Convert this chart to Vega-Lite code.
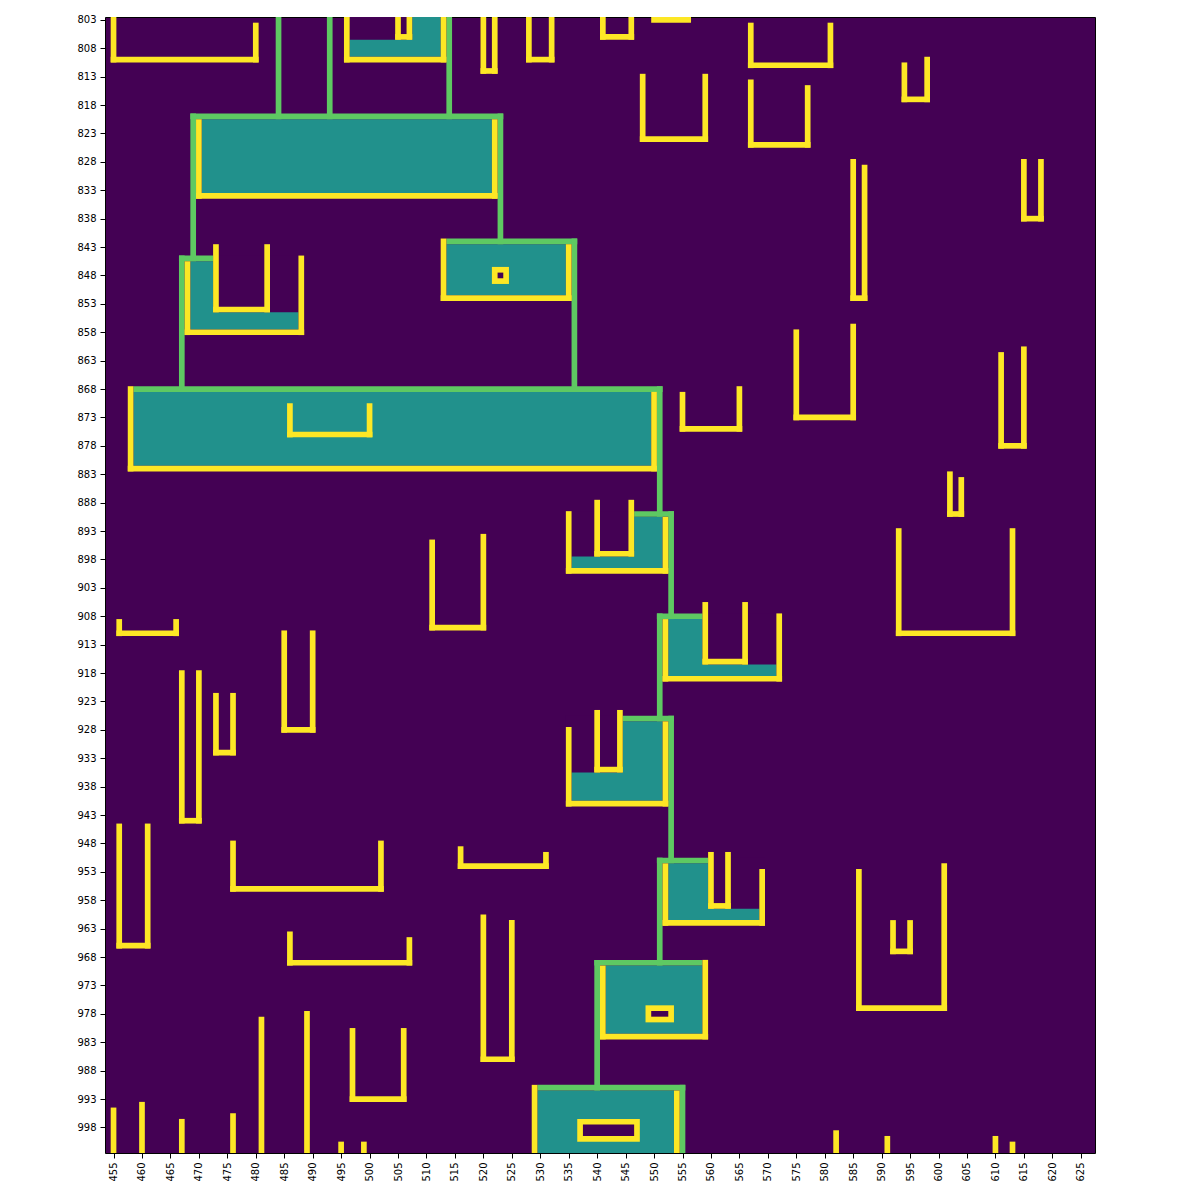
{
  "$schema": "https://vega.github.io/schema/vega-lite/v6.json",
  "width": 990,
  "height": 1136,
  "autosize": "none",
  "padding": {"left": 105, "top": 17, "right": 105, "bottom": 47},
  "background": "white",
  "config": {
    "view": {"stroke": "#000000", "strokeWidth": 1, "fill": "#440154"},
    "axis": {"grid": false, "domain": false, "tickColor": "#000000", "tickSize": 5, "tickWidth": 1, "labelFont": "DejaVu Sans", "labelFontSize": 10, "labelColor": "#000000", "labelPadding": 4, "title": null}
  },
  "data": {"values": [
    {"x":497,"x2":513,"y":803,"y2":810,"v":"t"},
    {"x":471,"x2":522,"y":821,"y2":834,"v":"t"},
    {"x":469,"x2":488,"y":846,"y2":858,"v":"t"},
    {"x":514,"x2":535,"y":843,"y2":852,"v":"t"},
    {"x":459,"x2":550,"y":869,"y2":882,"v":"t"},
    {"x":536,"x2":552,"y":891,"y2":900,"v":"t"},
    {"x":553,"x2":572,"y":909,"y2":919,"v":"t"},
    {"x":536,"x2":552,"y":927,"y2":941,"v":"t"},
    {"x":553,"x2":569,"y":952,"y2":962,"v":"t"},
    {"x":542,"x2":559,"y":970,"y2":982,"v":"t"},
    {"x":530,"x2":554,"y":992,"y2":1003,"v":"t"},

    {"x":496,"x2":508,"y":803,"y2":807,"v":"p"},
    {"x":473,"x2":489,"y":845,"y2":855,"v":"p"},
    {"x":535,"x2":547,"y":890,"y2":898,"v":"p"},
    {"x":559,"x2":573,"y":908,"y2":917,"v":"p"},
    {"x":535,"x2":545,"y":926,"y2":936,"v":"p"},
    {"x":560,"x2":570,"y":951,"y2":960,"v":"p"},

    {"x":484,"x2":485,"y":803,"y2":821,"v":"g"},
    {"x":493,"x2":494,"y":803,"y2":821,"v":"g"},
    {"x":514,"x2":515,"y":803,"y2":821,"v":"g"},
    {"x":469,"x2":524,"y":820,"y2":821,"v":"g"},
    {"x":469,"x2":470,"y":820,"y2":846,"v":"g"},
    {"x":523,"x2":524,"y":820,"y2":843,"v":"g"},
    {"x":467,"x2":473,"y":845,"y2":846,"v":"g"},
    {"x":467,"x2":468,"y":845,"y2":869,"v":"g"},
    {"x":514,"x2":537,"y":842,"y2":843,"v":"g"},
    {"x":536,"x2":537,"y":842,"y2":869,"v":"g"},
    {"x":459,"x2":552,"y":868,"y2":869,"v":"g"},
    {"x":551,"x2":552,"y":868,"y2":891,"v":"g"},
    {"x":547,"x2":554,"y":890,"y2":891,"v":"g"},
    {"x":553,"x2":554,"y":890,"y2":909,"v":"g"},
    {"x":551,"x2":559,"y":908,"y2":909,"v":"g"},
    {"x":551,"x2":552,"y":908,"y2":927,"v":"g"},
    {"x":545,"x2":554,"y":926,"y2":927,"v":"g"},
    {"x":553,"x2":554,"y":926,"y2":952,"v":"g"},
    {"x":551,"x2":560,"y":951,"y2":952,"v":"g"},
    {"x":551,"x2":552,"y":951,"y2":970,"v":"g"},
    {"x":540,"x2":559,"y":969,"y2":970,"v":"g"},
    {"x":540,"x2":541,"y":969,"y2":992,"v":"g"},
    {"x":530,"x2":556,"y":991,"y2":992,"v":"g"},
    {"x":555,"x2":556,"y":991,"y2":1003,"v":"g"},

    {"x":455,"x2":456,"y":803,"y2":811,"v":"y"},
    {"x":455,"x2":481,"y":810,"y2":811,"v":"y"},
    {"x":480,"x2":481,"y":804,"y2":811,"v":"y"},
    {"x":496,"x2":497,"y":803,"y2":811,"v":"y"},
    {"x":496,"x2":514,"y":810,"y2":811,"v":"y"},
    {"x":513,"x2":514,"y":803,"y2":811,"v":"y"},
    {"x":505,"x2":506,"y":803,"y2":807,"v":"y"},
    {"x":507,"x2":508,"y":803,"y2":807,"v":"y"},
    {"x":505,"x2":508,"y":806,"y2":807,"v":"y"},
    {"x":520,"x2":521,"y":803,"y2":813,"v":"y"},
    {"x":522,"x2":523,"y":803,"y2":813,"v":"y"},
    {"x":520,"x2":523,"y":812,"y2":813,"v":"y"},
    {"x":528,"x2":529,"y":803,"y2":811,"v":"y"},
    {"x":532,"x2":533,"y":803,"y2":811,"v":"y"},
    {"x":528,"x2":533,"y":810,"y2":811,"v":"y"},
    {"x":541,"x2":542,"y":803,"y2":807,"v":"y"},
    {"x":546,"x2":547,"y":803,"y2":807,"v":"y"},
    {"x":541,"x2":547,"y":806,"y2":807,"v":"y"},
    {"x":550,"x2":557,"y":803,"y2":804,"v":"y"},
    {"x":567,"x2":568,"y":804,"y2":812,"v":"y"},
    {"x":581,"x2":582,"y":804,"y2":812,"v":"y"},
    {"x":567,"x2":582,"y":811,"y2":812,"v":"y"},
    {"x":548,"x2":549,"y":813,"y2":825,"v":"y"},
    {"x":559,"x2":560,"y":813,"y2":825,"v":"y"},
    {"x":548,"x2":560,"y":824,"y2":825,"v":"y"},
    {"x":567,"x2":568,"y":814,"y2":826,"v":"y"},
    {"x":577,"x2":578,"y":815,"y2":826,"v":"y"},
    {"x":567,"x2":578,"y":825,"y2":826,"v":"y"},
    {"x":594,"x2":595,"y":811,"y2":818,"v":"y"},
    {"x":598,"x2":599,"y":810,"y2":818,"v":"y"},
    {"x":594,"x2":599,"y":817,"y2":818,"v":"y"},
    {"x":470,"x2":471,"y":821,"y2":835,"v":"y"},
    {"x":522,"x2":523,"y":821,"y2":835,"v":"y"},
    {"x":470,"x2":523,"y":834,"y2":835,"v":"y"},
    {"x":585,"x2":586,"y":828,"y2":853,"v":"y"},
    {"x":587,"x2":588,"y":829,"y2":853,"v":"y"},
    {"x":585,"x2":588,"y":852,"y2":853,"v":"y"},
    {"x":615,"x2":616,"y":828,"y2":839,"v":"y"},
    {"x":618,"x2":619,"y":828,"y2":839,"v":"y"},
    {"x":615,"x2":619,"y":838,"y2":839,"v":"y"},
    {"x":473,"x2":474,"y":843,"y2":855,"v":"y"},
    {"x":482,"x2":483,"y":843,"y2":855,"v":"y"},
    {"x":473,"x2":483,"y":854,"y2":855,"v":"y"},
    {"x":468,"x2":469,"y":846,"y2":859,"v":"y"},
    {"x":488,"x2":489,"y":845,"y2":859,"v":"y"},
    {"x":468,"x2":489,"y":858,"y2":859,"v":"y"},
    {"x":513,"x2":514,"y":842,"y2":853,"v":"y"},
    {"x":535,"x2":536,"y":843,"y2":853,"v":"y"},
    {"x":513,"x2":536,"y":852,"y2":853,"v":"y"},
    {"x":522,"x2":525,"y":847,"y2":850,"v":"y"},
    {"x":575,"x2":576,"y":858,"y2":874,"v":"y"},
    {"x":585,"x2":586,"y":857,"y2":874,"v":"y"},
    {"x":575,"x2":586,"y":873,"y2":874,"v":"y"},
    {"x":611,"x2":612,"y":862,"y2":879,"v":"y"},
    {"x":615,"x2":616,"y":861,"y2":879,"v":"y"},
    {"x":611,"x2":616,"y":878,"y2":879,"v":"y"},
    {"x":458,"x2":459,"y":868,"y2":883,"v":"y"},
    {"x":550,"x2":551,"y":869,"y2":883,"v":"y"},
    {"x":458,"x2":551,"y":882,"y2":883,"v":"y"},
    {"x":486,"x2":487,"y":871,"y2":877,"v":"y"},
    {"x":500,"x2":501,"y":871,"y2":877,"v":"y"},
    {"x":486,"x2":501,"y":876,"y2":877,"v":"y"},
    {"x":555,"x2":556,"y":869,"y2":876,"v":"y"},
    {"x":565,"x2":566,"y":868,"y2":876,"v":"y"},
    {"x":555,"x2":566,"y":875,"y2":876,"v":"y"},
    {"x":602,"x2":603,"y":883,"y2":891,"v":"y"},
    {"x":604,"x2":605,"y":884,"y2":891,"v":"y"},
    {"x":602,"x2":605,"y":890,"y2":891,"v":"y"},
    {"x":535,"x2":536,"y":890,"y2":901,"v":"y"},
    {"x":552,"x2":553,"y":891,"y2":901,"v":"y"},
    {"x":535,"x2":553,"y":900,"y2":901,"v":"y"},
    {"x":540,"x2":541,"y":888,"y2":898,"v":"y"},
    {"x":546,"x2":547,"y":888,"y2":898,"v":"y"},
    {"x":540,"x2":547,"y":897,"y2":898,"v":"y"},
    {"x":593,"x2":594,"y":893,"y2":912,"v":"y"},
    {"x":613,"x2":614,"y":893,"y2":912,"v":"y"},
    {"x":593,"x2":614,"y":911,"y2":912,"v":"y"},
    {"x":511,"x2":512,"y":895,"y2":911,"v":"y"},
    {"x":520,"x2":521,"y":894,"y2":911,"v":"y"},
    {"x":511,"x2":521,"y":910,"y2":911,"v":"y"},
    {"x":456,"x2":457,"y":909,"y2":912,"v":"y"},
    {"x":466,"x2":467,"y":909,"y2":912,"v":"y"},
    {"x":456,"x2":467,"y":911,"y2":912,"v":"y"},
    {"x":552,"x2":553,"y":909,"y2":920,"v":"y"},
    {"x":572,"x2":573,"y":908,"y2":920,"v":"y"},
    {"x":552,"x2":573,"y":919,"y2":920,"v":"y"},
    {"x":559,"x2":560,"y":906,"y2":917,"v":"y"},
    {"x":566,"x2":567,"y":906,"y2":917,"v":"y"},
    {"x":559,"x2":567,"y":916,"y2":917,"v":"y"},
    {"x":467,"x2":468,"y":918,"y2":945,"v":"y"},
    {"x":470,"x2":471,"y":918,"y2":945,"v":"y"},
    {"x":467,"x2":471,"y":944,"y2":945,"v":"y"},
    {"x":473,"x2":474,"y":922,"y2":933,"v":"y"},
    {"x":476,"x2":477,"y":922,"y2":933,"v":"y"},
    {"x":473,"x2":477,"y":932,"y2":933,"v":"y"},
    {"x":485,"x2":486,"y":911,"y2":929,"v":"y"},
    {"x":490,"x2":491,"y":911,"y2":929,"v":"y"},
    {"x":485,"x2":491,"y":928,"y2":929,"v":"y"},
    {"x":535,"x2":536,"y":928,"y2":942,"v":"y"},
    {"x":552,"x2":553,"y":927,"y2":942,"v":"y"},
    {"x":535,"x2":553,"y":941,"y2":942,"v":"y"},
    {"x":540,"x2":541,"y":925,"y2":936,"v":"y"},
    {"x":544,"x2":545,"y":925,"y2":936,"v":"y"},
    {"x":540,"x2":545,"y":935,"y2":936,"v":"y"},
    {"x":456,"x2":457,"y":945,"y2":967,"v":"y"},
    {"x":461,"x2":462,"y":945,"y2":967,"v":"y"},
    {"x":456,"x2":462,"y":966,"y2":967,"v":"y"},
    {"x":476,"x2":477,"y":948,"y2":957,"v":"y"},
    {"x":502,"x2":503,"y":948,"y2":957,"v":"y"},
    {"x":476,"x2":503,"y":956,"y2":957,"v":"y"},
    {"x":516,"x2":517,"y":949,"y2":953,"v":"y"},
    {"x":531,"x2":532,"y":950,"y2":953,"v":"y"},
    {"x":516,"x2":532,"y":952,"y2":953,"v":"y"},
    {"x":552,"x2":553,"y":952,"y2":963,"v":"y"},
    {"x":569,"x2":570,"y":953,"y2":963,"v":"y"},
    {"x":552,"x2":570,"y":962,"y2":963,"v":"y"},
    {"x":560,"x2":561,"y":950,"y2":960,"v":"y"},
    {"x":563,"x2":564,"y":950,"y2":960,"v":"y"},
    {"x":560,"x2":564,"y":959,"y2":960,"v":"y"},
    {"x":586,"x2":587,"y":953,"y2":978,"v":"y"},
    {"x":601,"x2":602,"y":952,"y2":978,"v":"y"},
    {"x":586,"x2":602,"y":977,"y2":978,"v":"y"},
    {"x":592,"x2":593,"y":962,"y2":968,"v":"y"},
    {"x":595,"x2":596,"y":962,"y2":968,"v":"y"},
    {"x":592,"x2":596,"y":967,"y2":968,"v":"y"},
    {"x":520,"x2":521,"y":961,"y2":987,"v":"y"},
    {"x":525,"x2":526,"y":962,"y2":987,"v":"y"},
    {"x":520,"x2":526,"y":986,"y2":987,"v":"y"},
    {"x":486,"x2":487,"y":964,"y2":970,"v":"y"},
    {"x":507,"x2":508,"y":965,"y2":970,"v":"y"},
    {"x":486,"x2":508,"y":969,"y2":970,"v":"y"},
    {"x":541,"x2":542,"y":970,"y2":983,"v":"y"},
    {"x":559,"x2":560,"y":969,"y2":983,"v":"y"},
    {"x":541,"x2":560,"y":982,"y2":983,"v":"y"},
    {"x":549,"x2":554,"y":977,"y2":980,"v":"y"},
    {"x":497,"x2":498,"y":981,"y2":994,"v":"y"},
    {"x":506,"x2":507,"y":981,"y2":994,"v":"y"},
    {"x":497,"x2":507,"y":993,"y2":994,"v":"y"},
    {"x":529,"x2":530,"y":991,"y2":1003,"v":"y"},
    {"x":554,"x2":555,"y":992,"y2":1003,"v":"y"},
    {"x":537,"x2":548,"y":997,"y2":1001,"v":"y"},
    {"x":455,"x2":456,"y":995,"y2":1003,"v":"y"},
    {"x":460,"x2":461,"y":994,"y2":1003,"v":"y"},
    {"x":467,"x2":468,"y":997,"y2":1003,"v":"y"},
    {"x":476,"x2":477,"y":996,"y2":1003,"v":"y"},
    {"x":481,"x2":482,"y":979,"y2":1003,"v":"y"},
    {"x":489,"x2":490,"y":978,"y2":1003,"v":"y"},
    {"x":495,"x2":496,"y":1001,"y2":1003,"v":"y"},
    {"x":499,"x2":500,"y":1001,"y2":1003,"v":"y"},
    {"x":582,"x2":583,"y":999,"y2":1003,"v":"y"},
    {"x":591,"x2":592,"y":1000,"y2":1003,"v":"y"},
    {"x":610,"x2":611,"y":1000,"y2":1003,"v":"y"},
    {"x":613,"x2":614,"y":1001,"y2":1003,"v":"y"},

    {"x":523,"x2":524,"y":848,"y2":849,"v":"p"},
    {"x":550,"x2":553,"y":978,"y2":979,"v":"p"},
    {"x":538,"x2":547,"y":998,"y2":1000,"v":"p"}
  ]},
  "mark": {"type": "rect"},
  "encoding": {
    "x": {"field": "x", "type": "quantitative",
          "scale": {"domain": [454, 628], "nice": false, "zero": false},
          "axis": {"values": [455.5,460.5,465.5,470.5,475.5,480.5,485.5,490.5,495.5,500.5,505.5,510.5,515.5,520.5,525.5,530.5,535.5,540.5,545.5,550.5,555.5,560.5,565.5,570.5,575.5,580.5,585.5,590.5,595.5,600.5,605.5,610.5,615.5,620.5,625.5],
                   "labelExpr": "format(datum.value - 0.5, 'd')", "labelAngle": 270, "labelAlign": "right", "labelBaseline": "middle", "labelOverlap": false}},
    "x2": {"field": "x2"},
    "y": {"field": "y", "type": "quantitative",
          "scale": {"domain": [803, 1003], "nice": false, "zero": false, "reverse": true},
          "axis": {"values": [803.5,808.5,813.5,818.5,823.5,828.5,833.5,838.5,843.5,848.5,853.5,858.5,863.5,868.5,873.5,878.5,883.5,888.5,893.5,898.5,903.5,908.5,913.5,918.5,923.5,928.5,933.5,938.5,943.5,948.5,953.5,958.5,963.5,968.5,973.5,978.5,983.5,988.5,993.5,998.5],
                   "labelExpr": "format(datum.value - 0.5, 'd')", "labelOverlap": false}},
    "y2": {"field": "y2"},
    "color": {"field": "v", "type": "nominal",
              "scale": {"domain": ["t", "g", "y", "p"], "range": ["#21918c", "#5ec962", "#fde725", "#440154"]},
              "legend": null}
  }
}
